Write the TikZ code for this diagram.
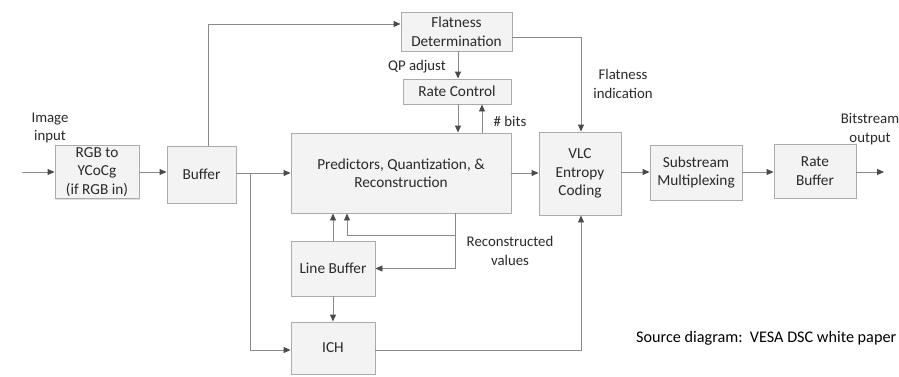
\documentclass[tikz,border=0pt]{standalone}
\usepackage{fontspec}
\setmainfont{Carlito}
\usetikzlibrary{arrows.meta,shadows}

\definecolor{boxfill}{HTML}{F3F3F3}
\definecolor{boxline}{HTML}{ABABAB}
\definecolor{wire}{HTML}{8A8A8A}
\definecolor{ink}{HTML}{2A2A2A}

\tikzset{
  blk/.style={draw=boxline, fill=boxfill, line width=0.9pt, align=center,
    text=ink, font=\fontsize{15.3}{18.5}\selectfont, inner sep=2pt,
    drop shadow={shadow xshift=1.2pt, shadow yshift=-1.2pt, fill=black, opacity=0.12}},
  arr/.style={draw=wire, line width=0.9pt, -{Triangle[length=7pt,width=6pt,color=ink!85,fill=ink!85]}},
  wire/.style={draw=wire, line width=0.9pt},
  lbl/.style={text=ink, font=\fontsize{14.8}{18.5}\selectfont, align=center, inner sep=0pt}
}

\begin{document}
\begin{tikzpicture}[x=1pt, y=-1pt]
  \useasboundingbox[fill=white] (0,0) rectangle (899,376);

  % processing blocks
  \node[blk, minimum width=84pt, minimum height=53pt] (rgb) at (97,172) {RGB to\\YCoCg\\(if RGB in)};
  \node[blk, minimum width=69pt, minimum height=57pt] (buf) at (201.5,174.5) {Buffer};
  \node[blk, minimum width=220pt, minimum height=80pt] (pqr) at (401,173) {Predictors, Quantization, \&\\Reconstruction};
  \node[blk, minimum width=111pt, minimum height=39pt] (flat) at (456.5,31.5) {Flatness\\Determination};
  \node[blk, minimum width=108pt, minimum height=25pt] (rc) at (457,91.5) {Rate Control};
  \node[blk, minimum width=82pt, minimum height=83pt] (vlc) at (580,173.5) {VLC\\Entropy\\Coding};
  \node[blk, minimum width=92pt, minimum height=55pt] (sub) at (696,172.5) {Substream\\Multiplexing};
  \node[blk, minimum width=82pt, minimum height=54pt] (rb) at (815,171) {Rate\\Buffer};
  \node[blk, minimum width=84pt, minimum height=55pt] (lb) at (333,268.5) {Line Buffer};
  \node[blk, minimum width=84pt, minimum height=52pt] (ich) at (333,348) {ICH};

  % helper points
  \coordinate (in) at (22,172);
  \coordinate (out) at (884,172);
  \coordinate (main) at (250,173);
  \coordinate (up) at (208,0);
  \coordinate (qp) at (458,0);
  \coordinate (bits) at (482,0);
  \coordinate (rec) at (455,0);
  \coordinate (recA) at (455,235);
  \coordinate (recB) at (347,0);
  \coordinate (lbx) at (333,0);
  \coordinate (vlcx) at (581,0);

  % main data path
  \draw[arr] (in) -- (rgb.west |- in);
  \draw[arr] (rgb.east) -- (buf.west |- rgb.east);
  \draw[arr] (buf.east |- main) -- (pqr.west |- main);
  \draw[arr] (main) |- ([yshift=-2pt]ich.west);
  \draw[arr] (pqr.east |- main) -- (vlc.west |- main);
  \draw[arr] (vlc.east |- 0,172) -- (sub.west |- 0,172);
  \draw[arr] (sub.east |- 0,172) -- (rb.west |- 0,172);
  \draw[arr] (rb.east |- out) -- (out);

  % flatness and rate control
  \draw[arr] (buf.north -| up) |- ([yshift=7.5pt]flat.west);
  \draw[arr] (flat.south -| qp) -- (rc.north -| qp);
  \draw[arr] (rc.south -| qp) -- (pqr.north -| qp);
  \draw[arr] (pqr.north -| bits) -- (rc.south -| bits);
  \draw[arr] ([yshift=-5.5pt]flat.east) -| (vlc.north -| vlcx);

  % reconstruction loop
  \draw[arr] (lb.north -| lbx) -- (pqr.south -| lbx);
  \draw[wire] (pqr.south -| rec) -- (rec |- lb.east);
  \draw[arr] (rec |- lb.east) -- (lb.east);
  \draw[arr] (recA) -| (pqr.south -| recB);
  \draw[arr] (lb.south) -- (ich.north);
  \draw[arr] ([yshift=-2pt]ich.east) -| (vlc.south -| vlcx);

  % annotations
  \node[lbl] (limg) at (50,128) {Image\\input};
  \node[lbl, anchor=east] (lqp) at (446,67) {QP adjust};
  \node[lbl] (lbits) at (510,121) {\# bits};
  \node[lbl] (lflat) at (623,84) {Flatness\\indication};
  \node[lbl] (lout) at (870,129) {Bitstream\\output};
  \node[lbl] (lrec) at (510,251) {Reconstructed\\values};
  \node[lbl, anchor=west, text=black, font=\fontsize{16.2}{19}\selectfont] (src) at (636,338) {Source diagram:\ \ VESA DSC white paper};
\end{tikzpicture}
\end{document}
